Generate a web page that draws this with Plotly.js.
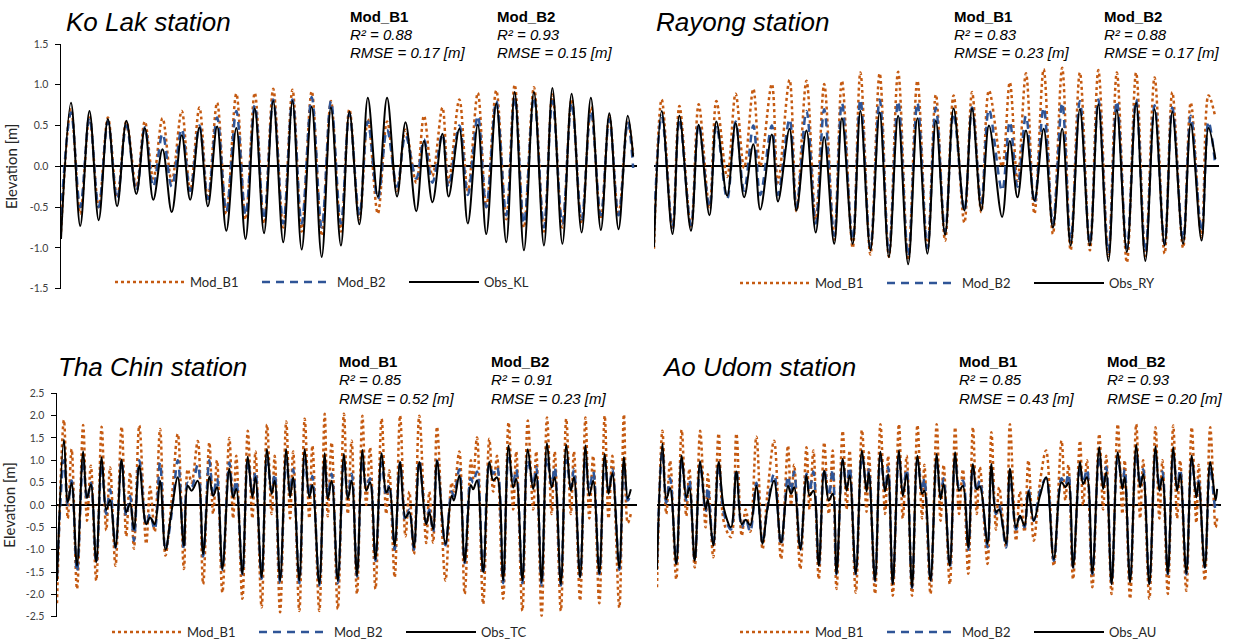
<!DOCTYPE html>
<html>
<head>
<meta charset="utf-8">
<script src="https://cdn.plot.ly/plotly-3.0.1.min.js"></script>
<style>html,body{margin:0;padding:0;background:#fff;}#chart{width:1239px;height:642px;}</style>
</head>
<body>
<div id="chart"></div>
<script>
// ---------- Ko Lak station (time in hours, elevation in m) ----------
const tKL = [0,13,25,37,49,61,73,85,98,109,120,132,144,157,168,180,191,203,215,228,240,252,264,276,289,301,313,326,339,351,364,375,388,399,412,424,437,448,462,472,483,496,504,518,529,542,553,566,579,590,602,615,628,639,652,664,677,689,702,713,725,737,744];
const obsKL = [-0.89,0.78,-0.73,0.68,-0.66,0.58,-0.49,0.56,-0.34,0.47,-0.41,0.21,-0.56,0.38,-0.41,0.48,-0.49,0.49,-0.79,0.47,-0.89,0.71,-0.82,0.80,-0.93,0.80,-1.02,0.73,-1.11,0.72,-0.97,0.67,-0.71,0.84,-0.37,0.84,-0.37,0.54,-0.55,0.31,-0.44,0.40,-0.37,0.46,-0.70,0.51,-0.83,0.77,-0.93,0.91,-1.03,0.91,-0.97,0.96,-0.95,0.89,-0.81,0.84,-0.78,0.65,-0.77,0.62,0.12];
const b1KL = [-0.8,0.70,-0.58,0.60,-0.5,0.60,-0.38,0.55,-0.25,0.55,-0.15,0.59,-0.18,0.68,-0.3,0.72,-0.4,0.78,-0.58,0.89,-0.65,0.90,-0.7,0.95,-0.75,0.94,-0.8,0.92,-0.85,0.80,-0.8,0.70,-0.65,0.58,-0.58,0.55,-0.3,0.45,-0.2,0.62,-0.12,0.72,-0.2,0.82,-0.3,0.90,-0.5,0.93,-0.65,1.00,-0.75,0.97,-0.8,0.88,-0.75,0.82,-0.7,0.72,-0.65,0.62,-0.6,0.55,0.15];
const b2KL = [-0.6,0.66,-0.5,0.6,-0.5,0.55,-0.4,0.5,-0.3,0.48,-0.25,0.40,-0.25,0.46,-0.3,0.5,-0.4,0.6,-0.55,0.68,-0.6,0.75,-0.65,0.82,-0.7,0.82,-0.7,0.85,-0.75,0.8,-0.7,0.65,-0.6,0.55,-0.4,0.45,-0.25,0.38,-0.15,0.33,-0.2,0.4,-0.25,0.5,-0.35,0.62,-0.5,0.8,-0.6,0.85,-0.7,0.85,-0.75,0.8,-0.7,0.78,-0.65,0.68,-0.6,0.58,-0.6,0.55,-0.02];

// ---------- Rayong station ----------
const tRY = [0,10,24,33,48,58,72,81,95,106,117,129,138,153,161,176,185,198,210,221,234,244,258,268,281,293,305,317,330,342,355,366,378,389,403,413,425,435,452,462,472,483,494,506,518,530,541,553,566,577,590,601,614,626,638,650,663,673,687,697,711,720,729];
const obsRY = [-0.99,0.68,-0.83,0.62,-0.79,0.51,-0.60,0.55,-0.36,0.53,-0.38,0.27,-0.53,0.39,-0.43,0.46,-0.54,0.44,-0.81,0.36,-0.95,0.59,-0.95,0.68,-1.03,0.66,-1.11,0.62,-1.20,0.59,-1.07,0.56,-0.84,0.71,-0.54,0.71,-0.54,0.50,-0.62,0.31,-0.38,0.44,-0.42,0.46,-0.75,0.46,-0.97,0.70,-0.97,0.76,-1.16,0.69,-1.05,0.78,-1.16,0.70,-0.97,0.67,-0.95,0.52,-0.91,0.47,0.09];
const b1RY = [-1.01,0.82,-0.77,0.74,-0.75,0.76,-0.5,0.80,-0.13,0.89,-0.02,0.95,0.0,1.01,-0.2,1.06,-0.55,1.05,-0.65,1.01,-0.9,1.05,-1.0,1.15,-1.08,1.14,-1.11,1.16,-1.15,1.05,-1.01,0.88,-0.91,0.87,-0.69,0.91,-0.56,0.93,0.0,1.03,-0.18,1.14,-0.58,1.19,-0.83,1.21,-1.03,1.15,-1.03,1.18,-1.1,1.15,-1.18,1.15,-1.1,1.09,-1.07,0.91,-1.0,0.78,-0.87,0.87,0.6];
const b2RY = [-0.75,0.62,-0.75,0.58,-0.72,0.52,-0.5,0.5,-0.4,0.55,-0.3,0.5,-0.35,0.5,-0.35,0.58,-0.5,0.68,-0.7,0.7,-0.85,0.78,-0.9,0.82,-1.0,0.82,-1.05,0.8,-1.1,0.78,-1.0,0.72,-0.8,0.65,-0.55,0.72,-0.45,0.7,-0.3,0.55,-0.25,0.62,-0.45,0.72,-0.7,0.78,-0.9,0.8,-0.95,0.82,-1.05,0.8,-1.0,0.82,-1.05,0.75,-0.95,0.72,-0.9,0.62,-0.8,0.55,0.0];

// ---------- Tha Chin station ----------
const tTC = [0,9,14,19,26,34,39,44,51,58,64,69,76,84,90,95,100,107,116,121,127,134,141,149,157,165,170,175,183,190,198,203,208,215,224,229,233,241,248,254,258,266,273,279,283,290,298,303,307,315,322,328,332,341,348,352,357,365,373,378,383,390,397,402,407,414,422,428,432,439,446,453,458,464,471,480,484,489,494,505,513,516,523,530,538,541,546,554,562,567,572,580,587,593,597,605,612,619,623,630,637,643,647,655,662,668,672,680,687,692,697,705,712,717,722,731,737,742,746];
const obsTC = [-1.7,1.46,0.06,0.49,-1.36,1.2,0.16,0.46,-1.28,1.07,-0.11,0.11,-0.95,1.02,-0.16,0.04,-0.54,0.88,-0.43,-0.28,-0.43,0.54,-1.0,-0.13,0.62,-0.91,0.43,0.32,0.54,-1.1,0.63,0.2,0.4,-1.43,0.81,0.17,0.36,-1.54,1.08,0.17,0.62,-1.62,1.25,0.25,0.54,-1.69,1.25,0.17,0.62,-1.69,1.25,0.17,0.45,-1.77,1.16,0.13,0.54,-1.69,1.14,0.13,0.54,-1.58,1.23,0.32,0.51,-1.21,1.16,0.28,0.4,-0.91,0.96,-0.28,-0.16,-0.95,0.96,-0.43,-0.16,-0.54,0.99,-0.87,0.21,0.1,0.66,-1.28,0.45,0.35,0.55,-1.5,0.96,0.55,0.62,-1.69,1.33,0.39,0.58,-1.69,1.25,0.36,0.69,-1.73,1.38,0.39,0.62,-1.77,1.35,0.32,0.62,-1.62,1.33,0.21,0.54,-1.53,1.14,0.25,0.71,-1.41,1.07,0.15,0.35];
const b1TC = [-2.2,1.9,-0.3,1.25,-1.88,1.79,-0.35,0.88,-1.69,1.75,-0.57,0.84,-1.36,1.75,-0.7,0.73,-0.98,1.78,-0.87,0.41,-0.6,1.7,-1.13,0.1,1.59,-1.43,0.8,0.5,1.43,-1.77,1.4,-0.2,1.0,-1.96,1.5,-0.3,1.1,-2.1,1.66,-0.3,1.2,-2.29,1.8,-0.2,1.1,-2.4,1.87,-0.3,1.2,-2.37,1.93,-0.3,1.33,-2.37,2.04,-0.25,1.4,-2.33,2.04,-0.2,1.44,-1.99,2.0,0.0,1.29,-1.88,1.93,-0.2,0.77,-1.62,2.0,-0.7,0.3,-1.1,2.0,-0.85,0.3,-0.84,1.75,-1.69,0.5,0.3,1.2,-1.99,1.0,0.6,1.51,-2.22,1.48,0.3,1.1,-2.1,1.85,-0.1,1.2,-2.37,1.89,-0.1,1.2,-2.48,1.96,-0.2,1.2,-2.37,1.93,-0.2,1.2,-2.14,1.96,-0.3,1.1,-2.2,2.0,-0.3,1.1,-2.3,2.03,-0.4,-0.2];
const b2TC = [-1.6,1.0,0.0,0.55,-1.5,1.0,0.1,0.5,-1.3,0.9,-0.2,0.35,-0.95,1.0,-0.25,0.2,-0.8,1.0,-0.45,-0.2,-0.55,0.95,-1.0,-0.2,1.0,-1.0,0.5,0.4,0.9,-1.15,1.0,0.2,0.6,-1.45,0.95,0.2,0.55,-1.55,1.0,0.25,0.75,-1.65,1.05,0.3,0.7,-1.75,1.0,0.3,0.8,-1.75,1.0,0.2,0.65,-1.8,1.0,0.2,0.7,-1.75,1.0,0.2,0.7,-1.6,1.0,0.4,0.6,-1.25,0.95,0.2,0.45,-1.0,0.95,-0.35,-0.1,-1.0,1.0,-0.4,-0.1,-0.6,1.0,-0.9,0.3,0.2,0.8,-1.3,0.6,0.5,0.75,-1.55,0.9,0.7,0.85,-1.75,1.05,0.5,0.8,-1.75,1.0,0.45,0.85,-1.8,1.05,0.45,0.85,-1.8,1.0,0.4,0.8,-1.6,1.0,0.35,0.75,-1.55,0.95,0.3,0.8,-1.45,0.9,0.1,0.25];

// ---------- Ao Udom station ----------
const tAU = [0,7,12,17,25,32,38,42,49,56,63,66,73,80,87,96,103,110,115,121,129,137,143,152,161,170,174,178,186,194,198,203,210,217,223,228,233,241,246,250,258,266,272,275,283,290,296,300,306,314,319,324,331,338,344,347,355,363,368,372,380,387,392,397,404,410,415,419,429,434,440,444,453,458,466,471,477,482,489,497,505,515,525,530,534,540,549,553,558,565,574,579,583,590,598,604,607,614,622,627,631,639,647,652,656,663,670,675,679,687,694,700,703,711,718,725,727];
const obsAU = [-1.45,1.37,0.13,0.38,-1.32,1.1,0.17,0.38,-1.25,0.98,-0.09,0.13,-0.91,0.96,-0.09,-0.5,0.75,-0.43,-0.33,-0.45,0.43,-0.87,-0.12,0.54,-0.84,0.43,0.25,0.4,-0.99,0.66,0.21,0.32,-1.36,0.77,0.1,0.25,-1.54,1.03,0.32,0.66,-1.54,1.22,0.3,0.73,-1.69,1.19,0.3,0.69,-1.77,1.22,0.2,0.69,-1.84,1.1,0.25,0.32,-1.69,1.14,0.13,0.47,-1.36,1.18,0.32,0.43,-0.95,0.92,0.35,0.42,-0.87,0.92,-0.16,-0.1,-0.87,0.81,-0.5,-0.24,-0.46,0.3,-0.35,0.2,0.62,-1.21,0.51,0.4,0.5,-1.4,0.96,0.47,0.62,-1.53,1.29,0.36,0.73,-1.77,1.18,0.36,0.62,-1.73,1.35,0.4,0.69,-1.77,1.31,0.32,0.62,-1.54,1.29,0.32,0.69,-1.53,1.1,0.17,0.51,-1.4,0.96,0.1,0.36];
const b1AU = [-1.84,1.66,-0.2,0.99,-1.66,1.68,-0.25,0.81,-1.4,1.66,-0.5,0.69,-1.17,1.6,-0.4,-0.72,1.6,-0.69,-0.1,-0.6,1.53,-0.99,0.2,1.44,-1.21,1.33,0.0,0.9,-1.43,1.29,-0.1,1.22,-1.66,1.4,-0.2,1.22,-1.88,1.66,-0.1,1.22,-1.96,1.68,-0.15,1.18,-1.99,1.81,-0.2,1.1,-2.03,1.81,-0.3,1.1,-2.03,1.79,-0.3,0.9,-1.99,1.81,-0.35,0.9,-1.77,1.74,-0.2,0.8,-1.54,1.74,-0.2,0.85,-1.32,1.63,-0.55,0.4,-0.95,1.81,-0.8,0.3,-0.6,1.0,-0.8,0.5,1.22,-1.36,1.44,0.1,0.9,-1.66,1.44,0.0,1.0,-1.84,1.59,-0.1,1.1,-1.99,1.81,-0.2,1.0,-2.1,1.81,-0.3,1.0,-2.1,1.74,-0.3,1.0,-1.99,1.78,-0.3,1.0,-1.92,1.74,-0.4,0.9,-1.69,1.74,-0.5,-0.3];
const b2AU = [-1.2,1.2,0.05,0.6,-1.3,1.0,0.1,0.55,-1.25,0.9,-0.15,0.4,-0.9,0.9,-0.2,-0.55,0.8,-0.5,-0.3,-0.6,0.5,-0.85,-0.1,0.7,-0.9,0.65,0.3,0.75,-1.0,0.7,0.3,0.75,-1.35,0.8,0.2,0.8,-1.55,1.0,0.4,0.85,-1.55,1.1,0.4,0.8,-1.7,1.05,0.35,0.85,-1.75,1.1,0.3,0.8,-1.85,1.0,0.3,0.6,-1.7,1.0,0.2,0.6,-1.4,1.0,0.4,0.55,-1.0,0.85,0.3,0.55,-0.95,0.8,-0.2,0.0,-0.95,0.7,-0.55,-0.25,-0.5,0.35,-0.35,0.3,0.6,-1.25,0.6,0.45,0.7,-1.4,0.85,0.5,0.8,-1.55,1.1,0.45,0.85,-1.75,1.05,0.45,0.8,-1.7,1.15,0.45,0.8,-1.75,1.15,0.4,0.75,-1.55,1.15,0.4,0.8,-1.55,1.0,0.2,0.55,-1.4,0.85,-0.1,0.0];

// ---------- labels ----------
const stations = ['Ko Lak station','Rayong station','Tha Chin station','Ao Udom station'];
const obsNames = ['Obs_KL','Obs_RY','Obs_TC','Obs_AU'];
const r2B1 = ['0.88','0.83','0.85','0.85'];
const r2B2 = ['0.93','0.88','0.91','0.93'];
const rmseB1 = ['0.17','0.23','0.52','0.43'];
const rmseB2 = ['0.15','0.17','0.23','0.20'];
const topTickVals = [-1.5,-1.0,-0.5,0.0,0.5,1.0,1.5];
const topTickText = ['-1.5','-1.0','-0.5','0.0','0.5','1.0','1.5'];
const botTickVals = [-2.5,-2.0,-1.5,-1.0,-0.5,0.0,0.5,1.0,1.5,2.0,2.5];
const botTickText = ['-2.5','-2.0','-1.5','-1.0','-0.5','0.0','0.5','1.0','1.5','2.0','2.5'];

const ORANGE = '#C55A11', BLUE = '#2F5597', BLACK = '#000000';
const FONT = 'Lato, "Liberation Sans", sans-serif';
const ARIAL = '"Liberation Sans", Arial, sans-serif';

const panels = [
  {t:tKL, o:obsKL, b1:b1KL, b2:b2KL, xa:'x',  ya:'y',  lg:'legend'},
  {t:tRY, o:obsRY, b1:b1RY, b2:b2RY, xa:'x2', ya:'y2', lg:'legend2'},
  {t:tTC, o:obsTC, b1:b1TC, b2:b2TC, xa:'x3', ya:'y3', lg:'legend3'},
  {t:tAU, o:obsAU, b1:b1AU, b2:b2AU, xa:'x4', ya:'y4', lg:'legend4'}
];

const traces = [];
panels.forEach((p, i) => {
  traces.push({x:p.t, y:p.b1, xaxis:p.xa, yaxis:p.ya, legend:p.lg, name:'Mod_B1', type:'scatter', mode:'lines',
    line:{color:ORANGE, width:2.5, dash:'dot', shape:'spline', smoothing:1}});
  traces.push({x:p.t, y:p.b2, xaxis:p.xa, yaxis:p.ya, legend:p.lg, name:'Mod_B2', type:'scatter', mode:'lines',
    line:{color:BLUE, width:2.5, dash:'8px,6px', shape:'spline', smoothing:1}});
  traces.push({x:p.t, y:p.o, xaxis:p.xa, yaxis:p.ya, legend:p.lg, name:obsNames[i], type:'scatter', mode:'lines',
    line:{color:BLACK, width:2, shape:'spline', smoothing:1}});
});

const W = 1239, H = 642;
const topDom = [1 - 288.7/H, 1 - 44/H];
const botDom = [1 - 616.7/H, 1 - 393.3/H];

function xAx(d0, d1, r) {
  return {domain:[d0/W, d1/W], range:[0, r], showline:false, showgrid:false, zeroline:false,
          showticklabels:false, ticks:'', fixedrange:true};
}
function yAx(dom, range, tv, tt, shown, anchor) {
  const ax = {domain:dom, range:range, anchor:anchor, showgrid:false,
    zeroline:true, zerolinecolor:'#000', zerolinewidth:2, fixedrange:true};
  if (shown) {
    Object.assign(ax, {tickmode:'array', tickvals:tv, ticktext:tt, showticklabels:true,
      ticks:'outside', ticklen:5, tickwidth:1, tickcolor:'#000', ticklabelstandoff:4,
      showline:true, linecolor:'#000', linewidth:1.5,
      tickfont:{family:FONT, size:10.5, color:'#404040'},
      title:{text:'Elevation [m]', font:{family:FONT, size:15, color:'#262626'}, standoff:8}});
  } else {
    Object.assign(ax, {showticklabels:false, ticks:'', showline:false});
  }
  return ax;
}

function legendAt(x0, yPix) {
  return {orientation:'h', x:x0/W, xanchor:'left', y:1 - yPix/H, yanchor:'middle',
    bgcolor:'rgba(0,0,0,0)', font:{family:FONT, size:13, color:'#262626'},
    itemwidth:70, entrywidth:62, traceorder:'normal', tracegroupgap:0};
}

const annotations = [];
const titlePos = [[64,22],[654,22],[56,367],[660,367]];
const statX = [[348,495],[952,1102],[337,489],[957,1105]];
const statY = [16,16,361,361];
function ann(text, xp, yp, size, style, weight) {
  return {text:text, xref:'paper', yref:'paper', x:xp/W, y:1 - yp/H, xanchor:'left', yanchor:'middle',
    showarrow:false, align:'left', font:{family:ARIAL, size:size, color:'#000', style:style, weight:weight}};
}
stations.forEach((s, i) => {
  annotations.push(ann(s, titlePos[i][0], titlePos[i][1], 26, 'italic', 'normal'));
  const y0 = statY[i];
  [[statX[i][0], r2B1[i], rmseB1[i], 'Mod_B1'], [statX[i][1], r2B2[i], rmseB2[i], 'Mod_B2']].forEach(b => {
    annotations.push(ann(b[3], b[0], y0, 15, 'normal', 'bold'));
    annotations.push(ann('R\u00B2 = ' + b[1], b[0], y0 + 18.5, 15, 'italic', 'normal'));
    annotations.push(ann('RMSE = ' + b[2] + ' [m]', b[0], y0 + 37, 15, 'italic', 'normal'));
  });
});

const layout = {
  width:W, height:H, margin:{l:0, r:0, t:0, b:0, autoexpand:false}, paper_bgcolor:'#fff', plot_bgcolor:'rgba(0,0,0,0)',
  xaxis: xAx(61, 637, 749),
  xaxis2: xAx(654, 1218.5, 733),
  xaxis3: xAx(57, 637, 754),
  xaxis4: xAx(657, 1221, 732),
  yaxis: yAx(topDom, [-1.5, 1.5], topTickVals, topTickText, true, 'x'),
  yaxis2: yAx(topDom, [-1.5, 1.5], topTickVals, topTickText, false, 'x2'),
  yaxis3: yAx(botDom, [-2.5, 2.5], botTickVals, botTickText, true, 'x3'),
  yaxis4: yAx(botDom, [-2.5, 2.5], botTickVals, botTickText, false, 'x4'),
  legend: legendAt(110, 282),
  legend2: legendAt(735, 283),
  legend3: legendAt(107, 632),
  legend4: legendAt(735, 632),
  annotations: annotations,
  showlegend:true
};

Plotly.newPlot('chart', traces, layout, {staticPlot:true, displayModeBar:false});
</script>
</body>
</html>
